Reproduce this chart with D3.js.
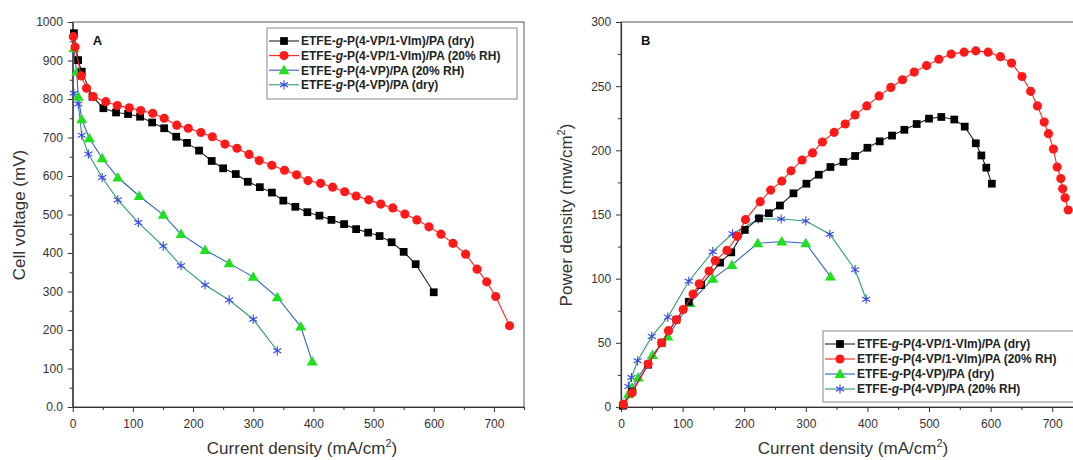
<!DOCTYPE html>
<html>
<head>
<meta charset="utf-8">
<script src="https://cdn.jsdelivr.net/npm/d3@7"></script>
<style>
  body { margin: 0; background: #fff; }
  svg { font-family: "Liberation Sans", Arial, sans-serif; }
</style>
</head>
<body>
<svg id="chart" width="1073" height="460"></svg>
<script>
// ---- panel A: cell voltage vs current density
var blackA_I = [2, 9, 15, 33, 51, 72, 92, 112, 132, 152, 172, 190, 210, 231, 250, 271, 291, 311, 331, 350, 370, 390, 410, 430, 451, 471, 491, 510, 530, 550, 570, 600];
var blackA_V = [971, 901, 871, 806, 776, 765, 761, 754, 739, 724, 702, 686, 666, 639, 620, 605, 585, 571, 557, 536, 520, 506, 497, 486, 475, 462, 453, 444, 428, 403, 371, 298];
var redA_I = [1, 4, 14, 23, 34, 55, 74, 94, 113, 133, 152, 173, 192, 213, 232, 253, 273, 293, 310, 331, 352, 372, 391, 412, 432, 452, 471, 492, 512, 532, 552, 572, 592, 612, 632, 653, 672, 688, 703, 726];
var redA_V = [962, 935, 860, 828, 806, 793, 783, 777, 770, 763, 750, 732, 724, 713, 702, 683, 672, 656, 640, 628, 615, 603, 588, 581, 571, 559, 548, 538, 527, 517, 501, 486, 468, 449, 425, 397, 358, 325, 287, 211];
var greenA_I = [2, 6.6, 9.3, 15, 27.6, 49, 75, 110.6, 150.5, 180, 220, 260, 300, 340, 379, 398];
var greenA_V = [932, 871, 806, 747, 698, 646, 596, 548, 499, 449, 408, 373, 338, 285, 209, 118];
var starA_I = [2, 9.3, 15, 26, 49, 75, 109, 150.5, 180, 220, 260, 300, 340];
var starA_V = [815, 787, 706, 657, 596, 538, 479, 418, 367, 317, 278, 228, 146];

// ---- panel B: power density vs current density
var blackB_I = [3, 18, 44, 66, 90, 110, 130, 161, 179, 201, 224, 240, 258, 280, 301, 321, 340, 361, 380, 400, 420, 440, 460, 480, 500, 520, 541, 558, 576, 585, 593, 602];
var blackB_P = [1, 12, 33, 50, 68, 82, 95, 112.5, 120.5, 138, 147, 151, 157, 166.5, 174, 181, 187, 191, 195.6, 202, 207, 211.5, 216, 220.5, 224.7, 226, 224, 218.5, 205.5, 196, 186.5, 174];
var redB_I = [4, 18, 44, 66, 77, 90, 101, 117, 127, 143, 153, 172, 189, 202, 226, 243, 261, 276, 294, 311, 327, 346, 364, 380, 399, 419, 438, 457, 476, 496, 516, 536, 557, 576, 596, 616, 634, 651, 665, 676, 687, 694, 702, 708, 714, 717, 721, 726];
var redB_P = [2, 11, 33.5, 50, 59.5, 68, 76, 88, 96, 106, 114, 122, 133, 146, 160, 169, 176, 184, 192.5, 198, 206.5, 214, 220.5, 227.6, 234.6, 242.4, 249, 255, 261, 266, 271, 275, 276.5, 277.5, 276.5, 273, 268, 257.5, 246, 234.6, 222, 213, 201, 187, 178, 170, 163, 153.5];
var greenB_I = [3, 12, 18, 28, 51, 76, 112, 149, 180, 222, 261, 300, 340];
var greenB_P = [2, 10, 15, 23, 40.5, 55, 81, 100, 110.7, 127.6, 129, 127.6, 101.6];
var starB_I = [12, 17, 27, 50, 76, 110, 149, 181, 223, 260, 300, 339, 380, 398];
var starB_P = [16, 23, 36, 55, 70, 98, 121, 135, 146.5, 146.5, 145, 134.6, 107, 84];

var xTicks = [0, 100, 200, 300, 400, 500, 600, 700];
var xMinor = [50, 150, 250, 350, 450, 550, 650, 750];
var yTicksA = [0, 100, 200, 300, 400, 500, 600, 700, 800, 900, 1000];
var yMinorA = [50, 150, 250, 350, 450, 550, 650, 750, 850, 950];
var yTicksB = [0, 50, 100, 150, 200, 250, 300];
var yMinorB = [25, 75, 125, 175, 225, 275];

var legendA = [
  ["ETFE-", "g", "-P(4-VP/1-VIm)/PA (dry)"],
  ["ETFE-", "g", "-P(4-VP/1-VIm)/PA (20% RH)"],
  ["ETFE-", "g", "-P(4-VP)/PA (20% RH)"],
  ["ETFE-", "g", "-P(4-VP)/PA (dry)"]
];
var legendB = [
  ["ETFE-", "g", "-P(4-VP/1-VIm)/PA (dry)"],
  ["ETFE-", "g", "-P(4-VP/1-VIm)/PA (20% RH)"],
  ["ETFE-", "g", "-P(4-VP)/PA (dry)"],
  ["ETFE-", "g", "-P(4-VP)/PA (20% RH)"]
];

var STYLES = [
  {line: "#222", fill: "#000", shape: "square"},
  {line: "#ff2020", fill: "#ff1a1a", shape: "circle"},
  {line: "#2f62c4", fill: "#1fe01f", shape: "triangle"},
  {line: "#2f9a78", fill: "#3344ee", shape: "star"}
];
var DRAW_ORDER = [3, 2, 0, 1];

var SVG = d3.select("#chart");

function zipPts(xs, ys) {
  return xs.map(function(x, i) { return [x, ys[i]]; });
}

function drawMarker(g, st, x, y) {
  if (st.shape == "star") {
    var r = 4.6;
    var p = "";
    [90, 30, 150].forEach(function(a) {
      var dx = r * Math.cos(a * Math.PI / 180), dy = r * Math.sin(a * Math.PI / 180);
      p += "M" + (x - dx) + "," + (y - dy) + "L" + (x + dx) + "," + (y + dy);
    });
    g.append("path").attr("d", p).attr("stroke", st.fill).attr("stroke-width", 1.1).attr("fill", "none");
    return;
  }
  var sym = st.shape == "square" ? d3.symbolSquare : st.shape == "circle" ? d3.symbolCircle : d3.symbolTriangle;
  var size = st.shape == "square" ? 60 : st.shape == "circle" ? 66 : 52;
  g.append("path")
    .attr("d", d3.symbol().type(sym).size(size)())
    .attr("transform", "translate(" + x + "," + (st.shape == "triangle" ? y + 0.8 : y) + ")")
    .attr("fill", st.fill);
}

function panel(opt) {
  var x = d3.scaleLinear().domain([0, 750]).range(opt.xr);
  var y = d3.scaleLinear().domain(opt.yd).range([407, 22]);
  var g = SVG.append("g");

  // frame
  g.append("rect")
    .attr("x", opt.xr[0]).attr("y", 22)
    .attr("width", opt.xr[1] - opt.xr[0]).attr("height", 385)
    .attr("fill", "none").attr("stroke", "#555").attr("stroke-width", 1);

  var xa = g.append("g").attr("transform", "translate(0,407)")
    .call(d3.axisBottom(x).tickValues(xTicks).tickSize(5).tickSizeOuter(0).tickFormat(d3.format("d")));
  g.append("g").attr("transform", "translate(0,407)")
    .call(d3.axisBottom(x).tickValues(xMinor).tickSize(3).tickFormat("")).select(".domain").remove();
  var ya = g.append("g").attr("transform", "translate(" + opt.xr[0] + ",0)")
    .call(d3.axisLeft(y).tickValues(opt.yt).tickSize(5).tickSizeOuter(0).tickFormat(opt.yf));
  g.append("g").attr("transform", "translate(" + opt.xr[0] + ",0)")
    .call(d3.axisLeft(y).tickValues(opt.ym).tickSize(3).tickFormat("")).select(".domain").remove();

  g.selectAll(".tick line").attr("stroke", "#333");
  g.selectAll(".domain").attr("stroke", "#333").attr("stroke-width", 1.2);
  g.selectAll(".tick text").attr("font-size", 12).attr("fill", "#333")
    .attr("font-family", "'Liberation Sans', Arial, sans-serif");
  xa.selectAll(".tick text").attr("dy", "1.05em");
  ya.selectAll(".tick text").attr("dx", "-0.15em");

  // axis titles
  var xt = g.append("text").attr("x", opt.xtc).attr("y", 454)
    .attr("text-anchor", "middle").attr("font-size", 17).attr("fill", "#333");
  xt.append("tspan").text("Current density (mA/cm");
  xt.append("tspan").attr("font-size", 11).attr("dy", -7).text("2");
  xt.append("tspan").attr("dy", 7).text(")");

  var yt = g.append("text").attr("transform", "translate(" + opt.ytx + ",215) rotate(-90)")
    .attr("text-anchor", "middle").attr("font-size", 17).attr("fill", "#333");
  yt.append("tspan").text(opt.ylab[0]);
  if (opt.ylab[1]) {
    yt.append("tspan").attr("font-size", 11).attr("dy", -7).text(opt.ylab[1]);
    yt.append("tspan").attr("dy", 7).text(opt.ylab[2]);
  }

  g.append("text").attr("x", opt.xr[0] + 20).attr("y", 45)
    .attr("font-size", 13).attr("font-weight", "bold").attr("fill", "#111").text(opt.tag);

  // series, drawn so red sits on top like the reference
  var line = d3.line().x(function(d) { return x(d[0]); }).y(function(d) { return y(d[1]); });
  DRAW_ORDER.forEach(function(i) {
    var s = opt.series[i];
    var st = STYLES[i];
    var pts = zipPts(s[0], s[1]);
    var sg = g.append("g");
    sg.append("path").attr("d", line(pts)).attr("fill", "none")
      .attr("stroke", st.line).attr("stroke-width", 1.1);
    pts.forEach(function(p) { drawMarker(sg, st, x(p[0]), y(p[1])); });
  });
  return g;
}

function legend(lx, ly, w, h, rows, rowGap, labels) {
  var g = SVG.append("g");
  g.append("rect").attr("x", lx).attr("y", ly).attr("width", w).attr("height", h)
    .attr("fill", "#fff").attr("stroke", "#888").attr("stroke-width", 1);
  labels.forEach(function(lab, i) {
    var yy = rows + i * rowGap;
    var st = STYLES[i];
    g.append("line").attr("x1", lx + 2).attr("x2", lx + 32).attr("y1", yy).attr("y2", yy)
      .attr("stroke", st.line).attr("stroke-width", 1.1);
    drawMarker(g, st, lx + 17, yy);
    var t = g.append("text").attr("x", lx + 34).attr("y", yy + 4.3)
      .attr("font-size", 12).attr("font-weight", "bold").attr("fill", "#222");
    t.append("tspan").text(lab[0]);
    t.append("tspan").attr("font-style", "italic").text(lab[1]);
    t.append("tspan").text(lab[2]);
  });
}

panel({
  xr: [72.7, 524], yd: [0, 1000], yt: yTicksA, ym: yMinorA,
  yf: function(d) { return d === 0 ? "0.0" : d; },
  xtc: 302, ytx: 25, ylab: ["Cell voltage (mV)"], tag: "A",
  series: [[blackA_I, blackA_V], [redA_I, redA_V], [greenA_I, greenA_V], [starA_I, starA_V]]
});

panel({
  xr: [621, 1083], yd: [0, 300], yt: yTicksB, ym: yMinorB,
  yf: d3.format("d"),
  xtc: 853, ytx: 572, ylab: ["Power density (mw/cm", "2", ")"], tag: "B",
  series: [[blackB_I, blackB_P], [redB_I, redB_P], [greenB_I, greenB_P], [starB_I, starB_P]]
});

legend(267, 28, 250, 71, 41, 14.6, legendA);
legend(823, 331, 260, 71, 344, 15, legendB);
</script>
</body>
</html>
